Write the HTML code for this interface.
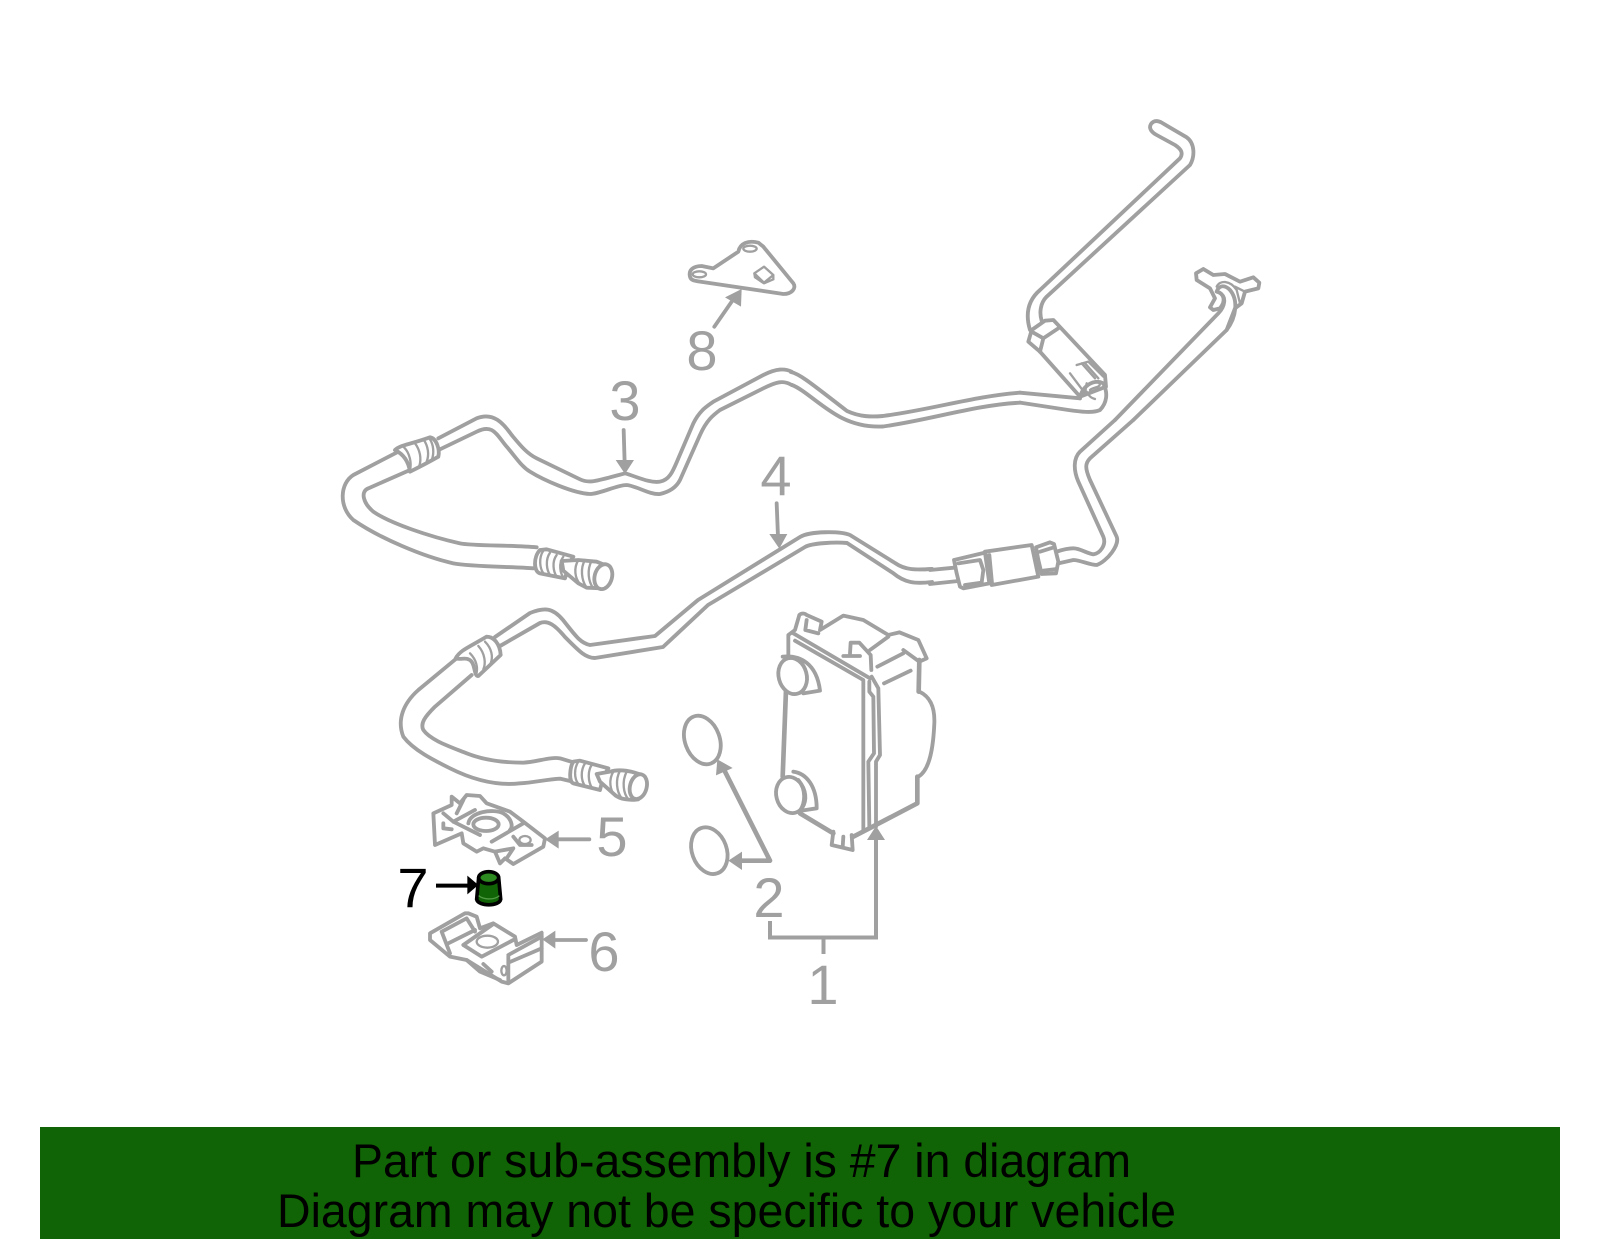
<!DOCTYPE html>
<html>
<head>
<meta charset="utf-8">
<style>
html,body{margin:0;padding:0;background:#fff;width:1600px;height:1249px;overflow:hidden}
svg{display:block}
.l{fill:none;stroke:#a0a0a0;stroke-width:11.5;stroke-linejoin:round;stroke-linecap:round}
.s{stroke-width:7}
.k{stroke-width:14}
.t{fill:none;stroke:#a0a0a0;stroke-width:3.9;stroke-linejoin:round;stroke-linecap:round}
.w{fill:#fff;stroke:#a0a0a0;stroke-width:11.5;stroke-linejoin:round}
.h{fill:#a0a0a0;stroke:none}
.a{fill:none;stroke:#a0a0a0;stroke-width:4}
.n{font-family:"Liberation Sans",sans-serif;font-size:56px;fill:#a0a0a0;text-anchor:middle}
.b{font-family:"Liberation Sans",sans-serif;font-size:47px;fill:#000}
</style>
</head>
<body>
<svg width="1600" height="1249" viewBox="0 0 1600 1249" xmlns="http://www.w3.org/2000/svg">
<rect x="0" y="0" width="1600" height="1249" fill="#fff"/>

<!-- banner -->
<rect x="40" y="1127" width="1520" height="112" fill="#116405"/>
<text class="b" x="352" y="1177" textLength="779" lengthAdjust="spacingAndGlyphs">Part or sub-assembly is #7 in diagram</text>
<text class="b" x="277" y="1227" textLength="899" lengthAdjust="spacingAndGlyphs">Diagram may not be specific to your vehicle</text>

<!-- middle runs, absolute coords -->
<path class="t" d="M791,372 C800,374 812,384 847,411 C860,417 872,417 883,416 C930,410 975,396 1020,392.7"/>
<path class="t" d="M792,385 C805,390 822,408 842,418 C858,426 872,427 883,426.5 C930,420 975,405 1020,402.7"/>
<path class="t" d="M495,637 L530,613 C545,607 553,608 563,620 C575,635 580,643 590,645 L655,636 L698,600 L800,537 C810,531 840,531 850,535 L895,563 C905,570 915,570 932,569"/>
<path class="t" d="M500,646 L540,623 C548,620 555,625 565,637 C578,650 585,658 595,658 L663,647 L708,605 L805,547 C812,543 835,542 847,543 L893,573 C905,583 915,584 932,582"/>

<!-- tube 3 + label arrows -->
<g transform="translate(330,360) scale(.33333)">
  <path class="l" d="M205,275 L70,345 C30,370 25,440 70,480 C150,535 280,590 370,610 C420,620 550,620 610,625"/>
  <path class="l" d="M240,330 L115,385 C90,395 100,430 130,455 C180,490 300,530 390,550 C430,558 550,555 620,562"/>
  <path class="l" d="M325,235 L440,175 C490,155 520,190 545,225 C570,255 590,280 620,295 L750,358 C780,372 800,362 885,340 C920,350 960,370 990,365 C1020,360 1030,330 1045,295 L1090,190 C1110,150 1130,140 1150,125 L1300,45 C1340,25 1365,25 1385,35"/>
  <path class="l" d="M330,268 L440,215 C490,190 500,225 530,260 C560,295 575,320 600,335 C640,360 730,400 780,402 C810,402 860,375 890,375 C920,378 960,405 990,402 C1020,395 1040,380 1050,360 L1110,225 C1130,180 1150,165 1170,150 L1300,85 C1340,65 1360,60 1385,75"/>
  <path class="w" d="M195,270 C210,255 235,255 300,232 C320,235 330,270 325,290 C290,310 260,325 240,335 C235,300 215,280 195,270Z"/>
  <path class="l s" d="M222,262 C240,280 245,310 240,330 M255,250 C270,270 275,295 268,318 M280,238 C295,258 298,285 290,305 M298,235 C312,255 312,280 306,298"/>
  <path class="w" d="M630,570 C610,590 610,635 630,640 L705,655 L720,605 L730,590 L650,568Z"/>
  <path class="l s" d="M640,572 C625,595 630,625 640,640 M660,578 C645,600 650,630 660,645 M680,585 C665,605 670,635 680,650 M700,590 C685,610 690,640 702,655"/>
  <path class="w" d="M695,603 L745,600 L800,605 L825,615 L815,685 L770,683 L745,670 L700,632Z"/>
  <path class="l s" d="M745,600 C730,625 735,655 750,672 M765,600 C750,625 755,660 768,680 M785,602 C770,630 775,665 790,685"/>
  <ellipse class="w" cx="820" cy="650" rx="26" ry="38" transform="rotate(15 820 650)"/>
  <path class="l" d="M881,210 L884,310"/>
  <path class="h" d="M857,300 L912,300 L885,342Z"/>
  <path class="l" d="M1340,430 L1344,530"/>
  <path class="h" d="M1318,522 L1372,522 L1348,566Z"/>
</g>
<text class="n" x="625" y="420">3</text>
<text class="n" x="776" y="495">4</text>
<text class="n" x="702" y="370">8</text>
<text class="n" x="612" y="856">5</text>
<text class="n" x="604" y="971">6</text>
<text class="n" x="769" y="917">2</text>
<text class="n" x="823" y="1004">1</text>
<text class="n" x="413" y="907" style="fill:#000">7</text>

<!-- tube 4 left -->
<g transform="translate(390,600) scale(.33333)">
  <path class="l" d="M200,175 L85,270 C40,310 20,360 40,410 C70,450 130,480 180,505 C250,540 320,558 390,550 C430,548 470,538 510,536 L548,545"/>
  <path class="l" d="M245,225 L135,320 C105,350 90,370 100,390 C120,420 180,440 230,460 C280,480 340,488 400,488 C440,486 480,470 510,475 L550,487"/>
  <path class="w" d="M197,175 C210,150 240,140 290,110 C310,110 330,130 332,165 L265,228 C250,230 258,185 235,178 C225,172 210,180 197,175Z"/>
  <path class="l s" d="M240,160 C260,180 265,205 258,225 M265,138 C285,160 288,190 280,208 M285,125 C305,145 310,170 302,190"/>
  <path class="w" d="M550,485 C540,500 535,545 550,550 L630,570 L640,530 L655,505 L570,482Z"/>
  <path class="l s" d="M565,485 C552,505 552,535 565,552 M585,490 C572,510 572,540 585,558 M605,495 C592,515 595,545 605,562"/>
  <path class="w" d="M620,522 L660,515 C690,505 730,515 755,525 L745,598 C720,602 690,598 675,585 L630,545Z"/>
  <path class="l s" d="M670,515 C655,540 660,570 675,588 M690,512 C675,540 680,575 695,595 M710,515 C695,545 700,580 715,598"/>
  <ellipse class="w" cx="745" cy="560" rx="25" ry="38" transform="rotate(15 745 560)"/>
</g>

<!-- upper right -->
<g transform="translate(930,100) scale(.33333)">
  <path class="l" d="M300,690 C285,640 295,600 330,570 L750,175 C760,160 755,148 735,135 L680,105 C665,97 655,85 663,72 C672,60 685,62 695,68 L770,112 C795,130 795,170 780,195 L350,590 C330,610 328,640 335,662"/>
  <path class="w" d="M295,725 L305,690 L345,662 L370,660 L525,825 L528,860 L450,890 L330,755Z"/>
  <path class="l" d="M305,695 L340,715 L385,685 M340,715 L330,755"/>
  <path class="l s" d="M420,820 L465,880 L470,850 M440,795 L475,785 L520,830 M455,790 L495,835 M465,790 L505,835"/>
  <path class="l" d="M450,895 C455,860 490,835 520,850 C535,880 530,910 510,930 C490,940 450,935 415,930 L270,908"/>
  <path class="l" d="M450,895 L270,878"/>
  <path class="l s" d="M480,870 C490,860 510,865 510,850 M470,875 C480,895 490,895 495,897"/>
  <path class="l" d="M555,960 L865,640 C885,620 890,590 870,580"/>
  <path class="l" d="M610,960 L890,690"/>
  <path class="w" d="M850,630 L840,622 L855,595 L840,565 L800,540 L798,520 L820,507 L850,525 L885,522 L930,545 L970,532 L988,548 L985,565 L945,575 L935,610 L915,625 L890,690 C920,650 925,600 900,570 C880,550 865,560 860,575 C880,580 890,600 870,625Z"/>
  <path class="l s" d="M860,560 C870,540 900,540 920,570 L930,610 M915,560 L945,575"/>
</g>

<!-- lower right tube + fitting -->
<g transform="translate(930,420) scale(.33333)">
  <path class="l" d="M555,0 L450,95 C430,115 430,150 445,185 L520,350 C530,375 510,400 490,403 C470,400 450,385 430,385 C410,385 395,390 380,395"/>
  <path class="l" d="M610,0 L480,115 C465,130 465,145 480,180 L560,350 C570,375 530,425 500,435 C480,435 450,420 430,420 L385,430"/>
  <path class="l" d="M0,450 L72,443 M0,492 L85,483"/>
  <path class="w" d="M165,395 L305,375 L325,470 L185,495Z"/>
  <path class="l" d="M178,405 L186,490"/>
  <path class="w" d="M318,382 L360,367 L372,372 L385,425 L378,460 L335,462 L325,420Z"/>
  <path class="l" d="M330,395 L372,382 M340,452 L380,447"/>
  <path class="w" d="M72,420 L165,398 L178,490 L100,505 L90,500 L80,460Z"/>
  <path class="l" d="M85,430 L150,420 L160,450 L155,488 L105,495"/>
</g>

<!-- bracket 8 -->
<g transform="translate(660,220) scale(.33333)">
  <path class="l" d="M90,170 C85,150 100,138 125,138 L160,145 L235,95 C240,70 265,60 295,68 L310,80 L400,190 C410,205 395,222 370,222 L120,185 C100,182 92,180 90,170Z"/>
  <ellipse class="l s" cx="118" cy="163" rx="20" ry="9"/>
  <ellipse class="l s" cx="270" cy="86" rx="20" ry="9"/>
  <path class="l s" d="M283,160 L312,140 L340,165 L312,188Z M285,172 L312,190 L340,178 M340,165 L340,178 M283,160 L285,172"/>
  <path class="l" d="M163,320 L215,245"/>
  <path class="h" d="M195,232 L245,207 L243,260Z"/>
</g>

<!-- cooler + o-rings -->
<g transform="translate(660,600) scale(.33333)">
  <path class="l" d="M385,170 L385,105 L405,90 L418,45 C425,38 435,40 440,45 L485,65 L480,90 L550,47 L610,60 L685,105 L718,97 L775,120 L800,175 L778,185 L730,150"/>
  <path class="l k" d="M378,270 L368,530 M420,640 L520,700 M580,710 L772,610 L772,530 M778,180 L776,275"/>
  <path class="l" d="M400,100 L630,235 M405,122 L610,240 L610,690 M628,245 L628,275 L640,290 L642,460 L625,485 L628,680 M635,230 L655,265 L660,465 L648,485 L648,680"/>
  <path class="l" d="M550,168 L600,168 M570,160 L572,128 L598,128 L632,165 L634,210 M630,150 L685,110 M652,200 L730,160 M672,250 L752,212 M440,60 L436,90 L475,100"/>
  <path class="l" d="M778,275 C810,290 825,320 823,370 C820,440 810,510 775,530"/>
  <path class="l" d="M368,170 C420,165 470,190 480,272 L430,280"/>
  <ellipse class="w" cx="398" cy="228" rx="42" ry="55" transform="rotate(-15 398 228)"/>
  <path class="l" d="M400,515 C440,520 470,560 470,625 L425,632"/>
  <ellipse class="w" cx="392" cy="585" rx="43" ry="55" transform="rotate(-15 392 585)"/>
  <path class="l" d="M415,540 C440,570 435,610 420,632"/>
  <path class="l" d="M520,695 L515,735 L578,750 L575,705 M550,710 L548,742"/>
  <ellipse class="l" cx="127" cy="420" rx="52" ry="75" transform="rotate(-20 127 420)"/>
  <ellipse class="l" cx="148" cy="752" rx="52" ry="72" transform="rotate(-20 148 752)"/>
  <path class="l k" d="M190,505 L330,782 L240,782"/>
  <path class="h" d="M172,478 L168,526 L218,504Z M205,782 L246,755 L246,810Z"/>
</g>

<!-- brackets for 1 / 1 arrow -->
<path class="a" d="M770,921 L770,937.5 L876,937.5 L876,836"/>
<path class="a" d="M823.5,937 L823.5,954"/>
<path class="h" d="M876,826 L867,840 L885,840Z"/>

<!-- clips + 7 -->
<g transform="translate(380,780) scale(.33333)">
  <path class="l" d="M160,100 L215,75 L215,50 L240,70 L260,45 L300,48 L320,70 L390,95 L430,125 L495,175 L490,200 L400,252 L375,235 L360,250 L345,215 L310,205 L290,215 L250,190 L245,160 L165,195Z"/>
  <path class="l" d="M190,100 L220,125 L300,165 M250,60 L230,100 M220,125 L285,90 M265,130 C270,95 340,85 370,100 C395,115 400,140 390,150 M335,185 L430,130 M400,170 L420,195 L455,195 M345,215 L400,205 L380,235 M190,130 L190,145 L215,148"/>
  <ellipse class="l" cx="318" cy="133" rx="38" ry="20"/>
  <ellipse class="l s" cx="435" cy="180" rx="17" ry="12"/>
  <path class="l" d="M628,178 L530,178"/>
  <path class="h" d="M495,178 L536,152 L536,206Z"/>

  <path class="l" d="M150,460 L255,400 L265,400 L290,410 L300,445 L340,430 L405,470 L410,495 L485,458 L485,545 L385,610 L365,605 L260,540 L210,530 L150,480Z"/>
  <path class="l" d="M185,455 L260,415 L285,455 M185,455 L210,520 M205,490 L285,450 M250,495 L340,432 M250,495 L305,530 L400,480 M385,530 L385,605 M385,525 L485,470 M385,548 L485,505 M260,540 L300,575 L360,600 M310,552 L335,575"/>
  <ellipse class="l s" cx="322" cy="485" rx="32" ry="18"/>
  <ellipse class="l s" cx="372" cy="572" rx="8" ry="14"/>
  <path class="l" d="M618,480 L525,480"/>
  <path class="h" d="M487,478 L526,452 L526,506Z"/>

  <path d="M168,317 L265,317" fill="none" stroke="#000" stroke-width="12"/>
  <path d="M295,315 L262,287 L262,343Z" fill="#000"/>
  <path d="M296,293 L290,358 C295,380 358,380 362,358 L356,293Z" fill="#116405" stroke="#000" stroke-width="11" stroke-linejoin="round"/>
  <ellipse cx="326" cy="293" rx="30" ry="18" fill="#2c8a20" stroke="#000" stroke-width="11"/>
  <path d="M296,347 C310,360 345,360 358,347" fill="none" stroke="#4f9a44" stroke-width="4"/>
</g>
</svg>
</body>
</html>
